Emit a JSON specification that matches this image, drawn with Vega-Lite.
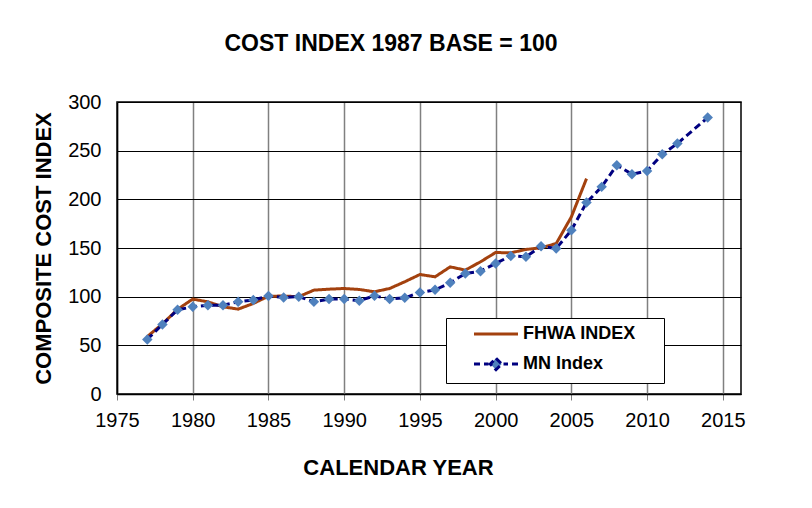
{
  "$schema": "https://vega.github.io/schema/vega-lite/v6.json",
  "autosize": "none",
  "width": 624,
  "height": 292,
  "padding": {"left": 117, "top": 102, "right": 71, "bottom": 114},
  "background": "white",
  "title": {
    "text": "COST INDEX 1987 BASE = 100",
    "font": "Liberation Sans",
    "fontSize": 23,
    "fontWeight": "bold",
    "color": "black",
    "anchor": "middle",
    "dx": -38,
    "offset": 36
  },
  "config": {
    "view": {"stroke": "black", "strokeWidth": 1.5},
    "axis": {
      "labelFont": "Liberation Sans",
      "labelFontSize": 20,
      "labelColor": "black",
      "titleFont": "Liberation Sans",
      "titleFontSize": 22,
      "titleFontWeight": "bold",
      "titleColor": "black",
      "domainColor": "black"
    }
  },
  "data": {
    "values": [
      {"year": 1977, "series": "FHWA INDEX", "value": 59},
      {"year": 1978, "series": "FHWA INDEX", "value": 72},
      {"year": 1979, "series": "FHWA INDEX", "value": 87},
      {"year": 1980, "series": "FHWA INDEX", "value": 97.5},
      {"year": 1981, "series": "FHWA INDEX", "value": 94.7},
      {"year": 1982, "series": "FHWA INDEX", "value": 89.6},
      {"year": 1983, "series": "FHWA INDEX", "value": 87.2},
      {"year": 1984, "series": "FHWA INDEX", "value": 93},
      {"year": 1985, "series": "FHWA INDEX", "value": 100.5},
      {"year": 1986, "series": "FHWA INDEX", "value": 100.6},
      {"year": 1987, "series": "FHWA INDEX", "value": 100},
      {"year": 1988, "series": "FHWA INDEX", "value": 106.7},
      {"year": 1989, "series": "FHWA INDEX", "value": 107.7},
      {"year": 1990, "series": "FHWA INDEX", "value": 108.4},
      {"year": 1991, "series": "FHWA INDEX", "value": 107.4},
      {"year": 1992, "series": "FHWA INDEX", "value": 105},
      {"year": 1993, "series": "FHWA INDEX", "value": 108.4},
      {"year": 1994, "series": "FHWA INDEX", "value": 115.3},
      {"year": 1995, "series": "FHWA INDEX", "value": 122.8},
      {"year": 1996, "series": "FHWA INDEX", "value": 120.4},
      {"year": 1997, "series": "FHWA INDEX", "value": 130.6},
      {"year": 1998, "series": "FHWA INDEX", "value": 127.3},
      {"year": 1999, "series": "FHWA INDEX", "value": 135.8},
      {"year": 2000, "series": "FHWA INDEX", "value": 145.4},
      {"year": 2001, "series": "FHWA INDEX", "value": 145},
      {"year": 2002, "series": "FHWA INDEX", "value": 148.5},
      {"year": 2003, "series": "FHWA INDEX", "value": 150.2},
      {"year": 2004, "series": "FHWA INDEX", "value": 154.6},
      {"year": 2005, "series": "FHWA INDEX", "value": 182},
      {"year": 2006, "series": "FHWA INDEX", "value": 221.3},
      {"year": 1977, "series": "MN Index", "value": 56.1},
      {"year": 1978, "series": "MN Index", "value": 71.5},
      {"year": 1979, "series": "MN Index", "value": 86.5},
      {"year": 1980, "series": "MN Index", "value": 89.6},
      {"year": 1981, "series": "MN Index", "value": 91.3},
      {"year": 1982, "series": "MN Index", "value": 91.3},
      {"year": 1983, "series": "MN Index", "value": 94.7},
      {"year": 1984, "series": "MN Index", "value": 96.5},
      {"year": 1985, "series": "MN Index", "value": 100.6},
      {"year": 1986, "series": "MN Index", "value": 99.2},
      {"year": 1987, "series": "MN Index", "value": 100},
      {"year": 1988, "series": "MN Index", "value": 94.7},
      {"year": 1989, "series": "MN Index", "value": 97.5},
      {"year": 1990, "series": "MN Index", "value": 97.5},
      {"year": 1991, "series": "MN Index", "value": 95.8},
      {"year": 1992, "series": "MN Index", "value": 100.9},
      {"year": 1993, "series": "MN Index", "value": 97.5},
      {"year": 1994, "series": "MN Index", "value": 98.8},
      {"year": 1995, "series": "MN Index", "value": 104.3},
      {"year": 1996, "series": "MN Index", "value": 107},
      {"year": 1997, "series": "MN Index", "value": 114.3},
      {"year": 1998, "series": "MN Index", "value": 123.8},
      {"year": 1999, "series": "MN Index", "value": 126.2},
      {"year": 2000, "series": "MN Index", "value": 134.1},
      {"year": 2001, "series": "MN Index", "value": 141.9},
      {"year": 2002, "series": "MN Index", "value": 140.9},
      {"year": 2003, "series": "MN Index", "value": 151.9},
      {"year": 2004, "series": "MN Index", "value": 149.5},
      {"year": 2005, "series": "MN Index", "value": 168.3},
      {"year": 2006, "series": "MN Index", "value": 196.7},
      {"year": 2007, "series": "MN Index", "value": 212.8},
      {"year": 2008, "series": "MN Index", "value": 235},
      {"year": 2009, "series": "MN Index", "value": 225.8},
      {"year": 2010, "series": "MN Index", "value": 229.2},
      {"year": 2011, "series": "MN Index", "value": 246.3},
      {"year": 2012, "series": "MN Index", "value": 257.3},
      {"year": 2014, "series": "MN Index", "value": 284}
    ]
  },
  "encoding": {
    "x": {
      "field": "year",
      "type": "quantitative",
      "scale": {"domain": [1975, 2016.2], "nice": false, "zero": false},
      "axis": {
        "values": [1975, 1980, 1985, 1990, 1995, 2000, 2005, 2010, 2015],
        "format": "d",
        "title": "CALENDAR YEAR",
        "titleX": 281,
        "titleY": 73,
        "titleBaseline": "middle",
        "labelFlush": false,
        "labelOverlap": false,
        "tickColor": "#808080",
        "tickSize": 6,
        "labelPadding": 10,
        "gridColor": "#808080",
        "gridWidth": 1.5,
        "gridOpacity": 1,
        "domainWidth": 1.5
      }
    },
    "y": {
      "field": "value",
      "type": "quantitative",
      "scale": {"domain": [0, 300], "nice": false},
      "axis": {
        "values": [0, 50, 100, 150, 200, 250, 300],
        "title": "COMPOSITE COST INDEX",
        "titleX": -74,
        "titleY": 146,
        "titleAngle": -90,
        "titleBaseline": "middle",
        "titleAlign": "center",
        "labelFlush": false,
        "labelOverlap": false,
        "ticks": false,
        "labelPadding": 16,
        "gridColor": "black",
        "gridWidth": 1,
        "gridOpacity": 1,
        "domainWidth": 1.5
      }
    }
  },
  "layer": [
    {
      "mark": {"type": "line", "strokeWidth": 3},
      "encoding": {
        "color": {
          "field": "series",
          "type": "nominal",
          "scale": {"domain": ["FHWA INDEX", "MN Index"], "range": ["#A3410E", "#000080"]},
          "legend": {
            "orient": "none",
            "legendX": 329,
            "legendY": 216,
            "title": null,
            "fillColor": "white",
            "strokeColor": "black",
            "padding": 7,
            "symbolSize": 100,
            "symbolStrokeWidth": 3,
            "symbolOffset": 34,
            "labelOffset": 18,
            "rowPadding": 9,
            "labelFont": "Liberation Sans",
            "labelFontSize": 18,
            "labelFontWeight": "bold",
            "labelColor": "black",
            "encode": {
              "symbols": {
                "update": {
                  "shape": {"signal": "datum.value === 'MN Index' ? 'M-4.4,0L-3.2,0M-2.4,0L-1.5,0M1.5,0L2.4,0M3.2,0L4.4,0M0,-1.15L1.15,0L0,1.15L-1.15,0Z' : 'M-4.4,0L4.4,0M31,0'"},
                  "fill": {"signal": "datum.value === 'MN Index' ? '#4F81BD' : 'transparent'"},
                  "strokeDash": {"value": [1, 0]}
                }
              }
            }
          }
        },
        "strokeDash": {
          "field": "series",
          "type": "nominal",
          "scale": {"domain": ["FHWA INDEX", "MN Index"], "range": [[1, 0], [7, 4]]},
          "legend": null
        }
      }
    },
    {
      "transform": [{"filter": "datum.series === 'MN Index'"}],
      "mark": {"type": "point", "shape": "diamond", "filled": true, "fill": "#4F81BD", "size": 110, "opacity": 1}
    }
  ]
}
